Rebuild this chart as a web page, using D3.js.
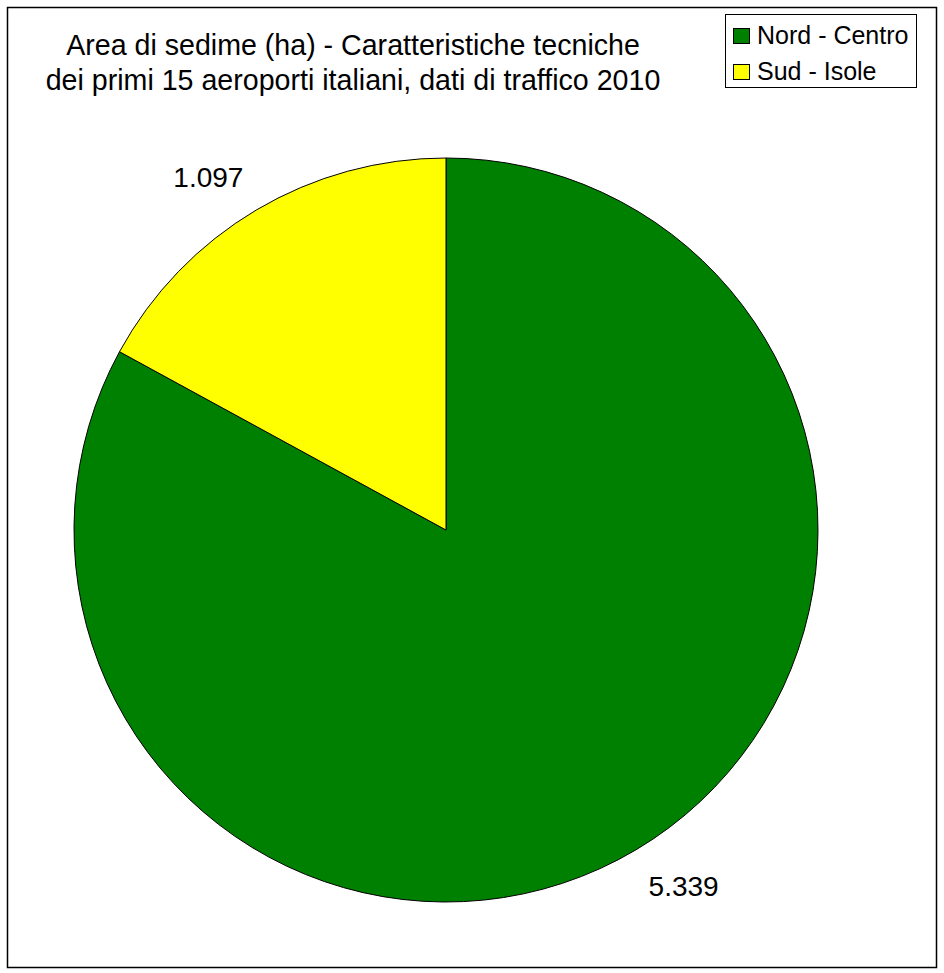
<!DOCTYPE html>
<html>
<head>
<meta charset="utf-8">
<script src="https://cdn.jsdelivr.net/npm/d3@7"></script>
<style>
  html, body { margin: 0; padding: 0; background: #fff; }
  text { font-family: "Liberation Sans", Arial, sans-serif; fill: #000; }
</style>
</head>
<body>
<div id="chart"></div>
<script>
// data
var categories = ['Nord - Centro', 'Sud - Isole'];
var values = [5339, 1097];
var valueLabels = ['5.339', '1.097'];
var colors = ['#008000', '#FFFF00'];
var titleLines = ['Area di sedime (ha) - Caratteristiche tecniche',
                  'dei primi 15 aeroporti italiani, dati di traffico 2010'];

document.addEventListener('DOMContentLoaded', function(e) {
  var svg = d3.select('#chart')
              .append('svg')
              .attr('width', 944)
              .attr('height', 973);

  // outer frame
  svg.append('rect')
     .attr('x', 7.5).attr('y', 7.5)
     .attr('width', 929).attr('height', 960)
     .attr('fill', 'none')
     .attr('stroke', 'black')
     .attr('stroke-width', 1.5);

  // title
  svg.selectAll('.title')
     .data(titleLines)
     .enter().append('text')
     .attr('class', 'title')
     .attr('x', 353)
     .attr('y', function(d, i) { return 55 + i * 35; })
     .attr('text-anchor', 'middle')
     .style('font-size', '28.6px')
     .text(function(d) { return d; });

  // pie
  var cx = 446, cy = 530, r = 372;
  var g = svg.append('g').attr('transform', 'translate(' + cx + ',' + cy + ')');

  var pie = d3.pie().sort(null).value(function(d) { return d; });
  var arcs = pie(values);
  var arc = d3.arc().innerRadius(0).outerRadius(r);

  g.selectAll('path')
   .data(arcs)
   .enter().append('path')
   .attr('d', arc)
   .attr('fill', function(d, i) { return colors[i]; })
   .attr('stroke', 'black')
   .attr('stroke-width', 1);

  // value labels outside the slices
  var labelR = 397;
  g.selectAll('.lbl')
   .data(arcs)
   .enter().append('text')
   .attr('class', 'lbl')
   .each(function(d, i) {
     var a = (d.startAngle + d.endAngle) / 2;
     var px = Math.sin(a) * labelR, py = -Math.cos(a) * labelR;
     d3.select(this)
       .attr('x', px)
       .attr('y', py < 0 ? py - 2 : py + 25)
       .attr('text-anchor', px < 0 ? 'end' : 'start');
   })
   .style('font-size', '28px')
   .text(function(d, i) { return valueLabels[i]; });

  // legend
  var legend = svg.append('g');
  legend.append('rect')
        .attr('x', 725.5).attr('y', 14.5)
        .attr('width', 191).attr('height', 73)
        .attr('fill', 'white')
        .attr('stroke', 'black')
        .attr('stroke-width', 1);

  var items = legend.selectAll('.item')
                    .data(categories)
                    .enter().append('g')
                    .attr('transform', function(d, i) { return 'translate(0,' + (i * 36) + ')'; });

  items.append('rect')
       .attr('x', 733.5).attr('y', 28.5)
       .attr('width', 16).attr('height', 15)
       .attr('fill', function(d, i) { return colors[i]; })
       .attr('stroke', 'black')
       .attr('stroke-width', 1);

  items.append('text')
       .attr('x', 757)
       .attr('y', 44)
       .style('font-size', '25px')
       .text(function(d) { return d; });
});
</script>
</body>
</html>
